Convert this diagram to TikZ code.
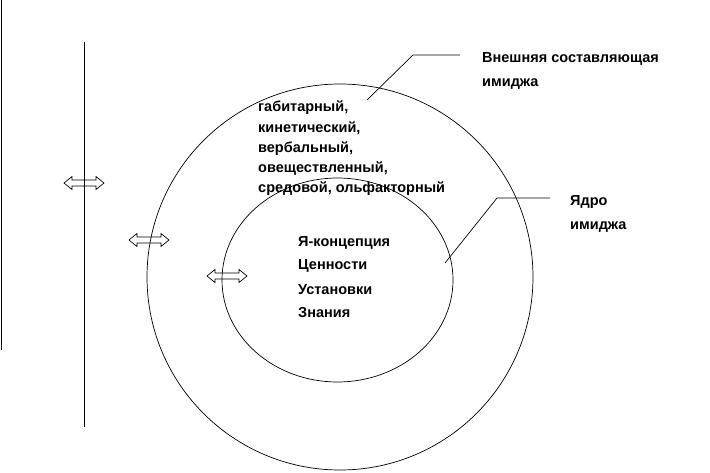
\documentclass[tikz,border=0pt]{standalone}
\usepackage{fontspec}
\setmainfont{Liberation Sans}
\usetikzlibrary{shapes.geometric}
\begin{document}
\begin{tikzpicture}[x=1pt,y=-1pt,
  ring/.style={draw, line width=0.7pt, inner sep=0pt},
  lbl/.style={font=\bfseries\fontsize{14.5}{20.3}\selectfont, anchor=base west, inner sep=0pt, align=left},
  lbl2/.style={font=\bfseries\fontsize{14.5}{24}\selectfont, anchor=base west, inner sep=0pt, align=left},
  dblarr/.style={draw, line width=0.7pt, line join=miter},
  lead/.style={line width=0.7pt}]
\useasboundingbox (0,0) rectangle (710,473);
% vertical lines
\coordinate (v1t) at (1,0);
\coordinate (v1b) at (1,350);
\coordinate (v2t) at (84,42);
\coordinate (v2b) at (84,427);
\draw[line width=1pt] (v1t) -- (v1b);
\draw[line width=0.8pt] (v2t) -- (v2b);
% circles
\node[ring, circle, minimum size=386pt] (outer) at (340,277) {};
\node[ring, ellipse, minimum width=231pt, minimum height=204pt] (inner) at (337.5,280) {};
% texts (base anchor = baseline of last line)
\node[lbl] (ext) at (258,193) {габитарный,\\кинетический,\\вербальный,\\овеществленный,\\средовой, ольфакторный};
\node[lbl2] (core) at (298,318) {Я-концепция\\Ценности\\Установки\\Знания};
\node[lbl2] (extlbl) at (482,87) {Внешняя составляющая\\имиджа};
\node[lbl2] (corelbl) at (570,230) {Ядро\\имиджа};
% leaders
\coordinate (l1a) at (367,100);
\coordinate (l1b) at (413,55);
\coordinate (l1c) at (460,55);
\draw[lead] (l1a) -- (l1b) -- (l1c);
\coordinate (l2a) at (445,263);
\coordinate (l2b) at (497,198);
\coordinate (l2c) at (550,198);
\draw[lead] (l2a) -- (l2b) -- (l2c);
% double arrows (hollow block arrows)
\coordinate (a1) at (84,183);
\coordinate (a2) at (149,240);
\coordinate (a3) at (227,276);
\foreach \c in {a1,a2,a3}{
  \draw[dblarr] ([shift={(-20,0)}]\c) -- ([shift={(-12,-6.5)}]\c) -- ([shift={(-12,-3)}]\c)
    -- ([shift={(12,-3)}]\c) -- ([shift={(12,-6.5)}]\c) -- ([shift={(20,0)}]\c)
    -- ([shift={(12,6.5)}]\c) -- ([shift={(12,3)}]\c) -- ([shift={(-12,3)}]\c)
    -- ([shift={(-12,6.5)}]\c) -- cycle;
}
\end{tikzpicture}
\end{document}
